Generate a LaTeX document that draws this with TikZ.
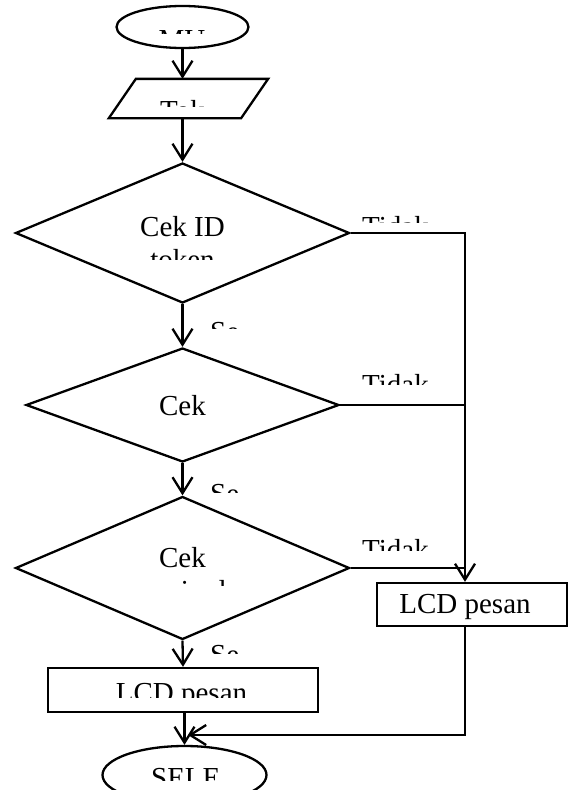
\documentclass[tikz,border=0pt]{standalone}
\usepackage{fontspec}
\setmainfont{Liberation Serif}
\usetikzlibrary{shapes.geometric,arrows.meta,calc}
\begin{document}
\begin{tikzpicture}[x=1pt,y=-1pt,
  line width=2.3pt,
  shp/.style={draw, line width=2.3pt, inner sep=0pt},
  term/.style={shp, ellipse},
  dec/.style={shp, diamond},
  proc/.style={shp, rectangle},
  arr/.style={-{Straight Barb[length=16pt,width=20pt]}},
  lbl/.style={inner sep=0pt, font=\fontsize{29}{33}\selectfont},
]
\clip (0,0) rectangle (569,790);
\fill[white] (0,0) rectangle (569,790);
% shapes
\node[term, minimum width=132pt, minimum height=42pt] (start) at (182.5,27) {};
\node[inner sep=0pt, minimum width=157pt, minimum height=37pt] (tok) at (188.5,98.5) {};
\draw[line width=2.3pt] ($(tok.north west)+(27,0)$) -- (tok.north east) -- ($(tok.south east)-(27,0)$) -- (tok.south west) -- cycle;
\node[dec, minimum width=334pt, minimum height=140pt] (d1) at (182.5,233) {};
\node[dec, minimum width=313pt, minimum height=114pt] (d2) at (182.5,405) {};
\node[dec, minimum width=334pt, minimum height=143pt] (d3) at (182.5,568) {};
\node[proc, minimum width=190pt, minimum height=43pt] (lcd2) at (472,604.5) {};
\node[proc, minimum width=270pt, minimum height=44pt] (lcd1) at (183,690) {};
\node[term, minimum width=164pt, minimum height=58pt] (end) at (184.5,775) {};
\coordinate (bus) at (465,233);
\coordinate (merge) at (188,735);
% connectors
\draw[arr] (start.south) -- (start.south |- tok.north);
\draw[arr] (tok.south -| d1.north) -- (d1.north);
\draw[arr] (d1.south) -- (d2.north);
\draw[arr] (d2.south) -- (d3.north);
\draw[arr] (d3.south) -- (lcd1.north);
\draw[arr] (lcd1.south -| end.north) -- (end.north);
\draw[arr] (d1.east) -- (bus) -- (bus |- lcd2.north);
\draw (d2.east) -- (bus |- d2.east);
\draw (d3.east) -- (bus |- d3.east);
\draw[arr] (bus |- lcd2.south) -- (bus |- merge) -- (merge);
% labels (clipped as in the reference)
\begin{scope}
\clip (150,26) rectangle (215,33);
\node[lbl, anchor=base] (tmu) at (182,49) {MU};
\end{scope}
\begin{scope}
\clip (150,97) rectangle (215,106);
\node[lbl, anchor=base] (ttok) at (182.5,120) {Tok};
\end{scope}
\node[lbl, anchor=base] (tcek1) at (182.5,236) {Cek ID};
\begin{scope}
\clip (130,245) rectangle (240,259);
\node[lbl, anchor=base] (ttoken) at (182.5,269) {token};
\end{scope}
\node[lbl, anchor=base] (tcek2) at (182.5,415) {Cek};
\node[lbl, anchor=base] (tcek3) at (182.5,567) {Cek};
\begin{scope}
\clip (130,575) rectangle (240,585);
\node[lbl, anchor=base] (texp) at (182.5,600) {expired};
\end{scope}
\begin{scope}
\clip (355,210) rectangle (440,222);
\node[lbl, anchor=base west] (tt1) at (361,236) {Tidak};
\end{scope}
\begin{scope}
\clip (355,368) rectangle (440,384);
\node[lbl, anchor=base west] (tt2) at (361,394) {Tidak};
\end{scope}
\begin{scope}
\clip (355,535) rectangle (440,550);
\node[lbl, anchor=base west] (tt3) at (361,559) {Tidak};
\end{scope}
\begin{scope}
\clip (205,315) rectangle (240,328);
\node[lbl, anchor=base west] (ts1) at (209,341) {Se};
\end{scope}
\begin{scope}
\clip (205,475) rectangle (240,492);
\node[lbl, anchor=base west] (ts2) at (209,503) {Se};
\end{scope}
\begin{scope}
\clip (205,638) rectangle (240,653);
\node[lbl, anchor=base west] (ts3) at (209,664) {Se};
\end{scope}
\node[lbl, anchor=base] (tlcd2) at (465,613) {LCD pesan};
\begin{scope}
\clip (100,678) rectangle (270,697);
\node[lbl, anchor=base] (tlcd1) at (181.5,702) {LCD pesan};
\end{scope}
\begin{scope}
\clip (145,762) rectangle (222,780);
\node[lbl, anchor=base west] (tend) at (150,787) {SELE};
\end{scope}
\end{tikzpicture}
\end{document}
